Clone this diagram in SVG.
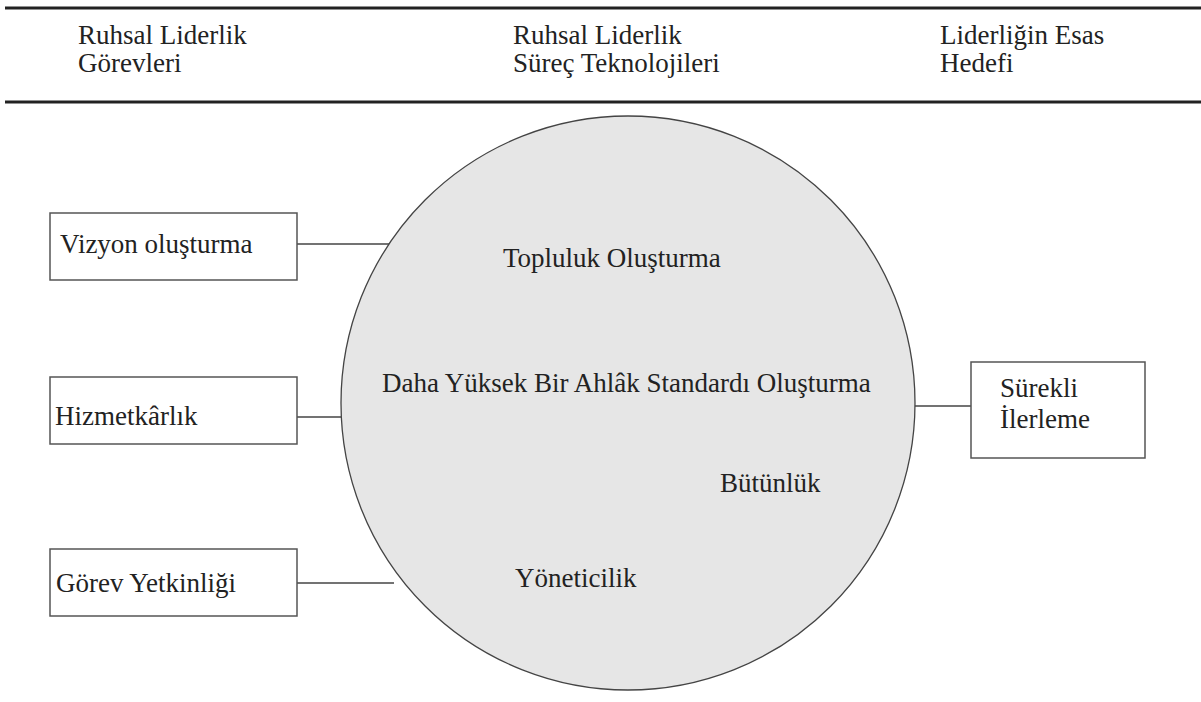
<svg xmlns="http://www.w3.org/2000/svg" width="1201" height="702" viewBox="0 0 1201 702">
<style>
text{font-family:"Liberation Serif","Times New Roman",serif;font-size:27px;fill:#222}
.box{fill:#fff;stroke:#555;stroke-width:1.5}
.rule{stroke:#222;stroke-width:3}
.con{stroke:#444;stroke-width:1.3;fill:none}
</style>
<rect width="1201" height="702" fill="#fff"/>
<g id="header">
<line class="rule" x1="5" y1="8" x2="1201" y2="8"/>
<line class="rule" x1="5" y1="102" x2="1201" y2="102"/>
<text x="78" y="44">Ruhsal Liderlik</text>
<text x="78" y="72">Görevleri</text>
<text x="513" y="44">Ruhsal Liderlik</text>
<text x="513" y="72">Süreç Teknolojileri</text>
<text x="940" y="44">Liderliğin Esas</text>
<text x="940" y="72">Hedefi</text>
</g>
<g id="connectors">
<line class="con" x1="297" y1="244" x2="404" y2="244"/>
<line class="con" x1="297" y1="417" x2="341" y2="417"/>
<line class="con" x1="297" y1="583" x2="394" y2="583"/>
<line class="con" x1="914" y1="406" x2="971" y2="406"/>
</g>
<g id="circle">
<circle cx="628" cy="403" r="287" fill="#e6e6e6" stroke="#444" stroke-width="1.3"/>
<text x="503" y="267">Topluluk Oluşturma</text>
<text x="382" y="392">Daha Yüksek Bir Ahlâk Standardı Oluşturma</text>
<text x="720" y="492">Bütünlük</text>
<text x="515" y="587">Yöneticilik</text>
</g>
<g id="vizyon">
<rect class="box" x="50" y="213" width="247" height="67"/>
<text x="60" y="253">Vizyon oluşturma</text>
</g>
<g id="hizmet">
<rect class="box" x="50" y="377" width="247" height="67"/>
<text x="55" y="425">Hizmetkârlık</text>
</g>
<g id="gorev">
<rect class="box" x="50" y="549" width="247" height="67"/>
<text x="56" y="592">Görev Yetkinliği</text>
</g>
<g id="surekli">
<rect class="box" x="971" y="362" width="174" height="96"/>
<text x="1000" y="397">Sürekli</text>
<text x="1000" y="428">İlerleme</text>
</g>
</svg>
